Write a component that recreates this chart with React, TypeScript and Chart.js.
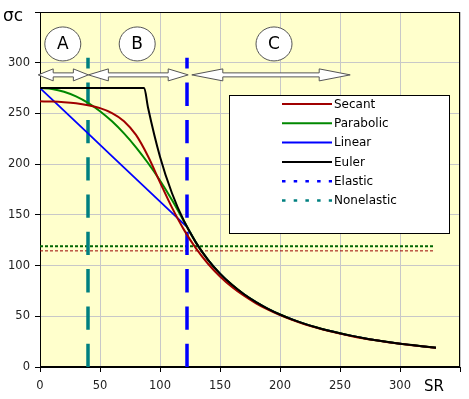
import React, { useEffect, useRef } from 'react';
import { Chart, registerables } from 'chart.js';

Chart.register(...registerables);

// ---- data ----
const srGrid = [0, 10, 20, 30, 40, 50, 60, 70, 80, 90, 100, 110, 120, 130, 140, 150, 160, 170, 180, 190, 200, 210, 220, 230, 240, 250, 260, 270, 280, 290, 300, 310, 320, 330];
const secant = [261.9, 261.7, 261.1, 260.0, 258.1, 255.2, 250.4, 242.4, 228.8, 207.8, 182.1, 157.1, 135.2, 116.9, 101.8, 89.3, 78.9, 70.2, 62.8, 56.5, 51.1, 46.4, 42.3, 38.8, 35.6, 32.9, 30.4, 28.2, 26.3, 24.5, 22.9, 21.4, 20.1, 18.9];
const parabolic = [275, 274.1, 271.4, 266.8, 260.4, 252.2, 242.2, 230.3, 216.6, 201.1, 183.8, 164.6, 143.6, 122.6, 105.7, 92.1, 81.0, 71.7, 64.0, 57.4, 51.8, 47.0, 42.8, 39.2, 36.0, 33.2, 30.7, 28.4, 26.4, 24.6, 23.0, 21.6, 20.2, 19.0];
const linearSR = [0, 40, 80, 110, 120, 122.5, 130, 140, 150, 160, 170, 180, 190, 200, 210, 220, 230, 240, 250, 260, 270, 280, 290, 300, 310, 320, 330];
const linear = [275, 230.3, 185.5, 152.0, 140.8, 138.0, 122.6, 105.7, 92.1, 81.0, 71.7, 64.0, 57.4, 51.8, 47.0, 42.8, 39.2, 36.0, 33.2, 30.7, 28.4, 26.4, 24.6, 23.0, 21.6, 20.2, 19.0];
const eulerSR = [0, 86.8, 90, 100, 110, 120, 130, 140, 150, 160, 170, 180, 190, 200, 210, 220, 230, 240, 250, 260, 270, 280, 290, 300, 310, 320, 330];
const euler = [275, 275, 255.9, 207.3, 171.3, 143.9, 122.6, 105.7, 92.1, 81.0, 71.7, 64.0, 57.4, 51.8, 47.0, 42.8, 39.2, 36.0, 33.2, 30.7, 28.4, 26.4, 24.6, 23.0, 21.6, 20.2, 19.0];

const elasticSR = 122.5;
const nonelasticSR = 40;
const zoneLineTop = 305;

const refLineSR = [0, 329];
const refGreen = 119;
const refRed = 114.5;

const zoneLetters = ['A', 'B', 'C'];
const zoneCircleSR = [19, 81, 195];
const zoneCircleSigma = 318.5;
const arrowFromSR = [-1.5, 40.3, 126.5];
const arrowToSR = [40.3, 123.5, 258.5];
const arrowHead = [15, 20, 31];
const arrowSigma = 288;

const xTicks = [0, 50, 100, 150, 200, 250, 300];
const yTicks = [0, 50, 100, 150, 200, 250, 300];

const FONT = '"DejaVu Sans", sans-serif';

const toXY = (xs: number[], ys: number[]) => xs.map((x, i) => ({ x, y: ys[i] }));

const legendNames = ['Secant', 'Parabolic', 'Linear', 'Euler', 'Elastic', 'Nonelastic'];

function drawDoubleArrow(ctx: CanvasRenderingContext2D, x1: number, x2: number, y: number, head: number) {
  const hh = 6;
  const sh = 2;
  ctx.beginPath();
  ctx.moveTo(x1, y);
  ctx.lineTo(x1 + head, y - hh);
  ctx.lineTo(x1 + head, y - sh);
  ctx.lineTo(x2 - head, y - sh);
  ctx.lineTo(x2 - head, y - hh);
  ctx.lineTo(x2, y);
  ctx.lineTo(x2 - head, y + hh);
  ctx.lineTo(x2 - head, y + sh);
  ctx.lineTo(x1 + head, y + sh);
  ctx.lineTo(x1 + head, y + hh);
  ctx.closePath();
  ctx.fillStyle = '#ffffff';
  ctx.fill();
  ctx.strokeStyle = '#555555';
  ctx.lineWidth = 1;
  ctx.stroke();
}

const bgPlugin = {
  id: 'bgPlugin',
  beforeDraw(chart: any) {
    const { ctx, chartArea: a } = chart;
    ctx.save();
    ctx.fillStyle = '#ffffff';
    ctx.fillRect(0, 0, chart.width, chart.height);
    ctx.fillStyle = '#FFFFCC';
    ctx.fillRect(a.left, a.top, a.right - a.left, a.bottom - a.top);
    ctx.restore();
  },
  beforeDatasetsDraw(chart: any) {
    const { ctx, chartArea: a } = chart;
    ctx.save();
    ctx.strokeStyle = '#000000';
    ctx.lineWidth = 1;
    ctx.strokeRect(a.left + 0.5, a.top + 0.5, a.right - a.left - 1, a.bottom - a.top - 1);
    ctx.restore();
  },
};

const overlayPlugin = {
  id: 'overlayPlugin',
  afterDatasetsDraw(chart: any) {
    const { ctx } = chart;
    const xs = chart.scales.x;
    const ys = chart.scales.y;
    ctx.save();
    // arrows
    for (let i = 0; i < arrowFromSR.length; i++) {
      drawDoubleArrow(ctx, xs.getPixelForValue(arrowFromSR[i]), xs.getPixelForValue(arrowToSR[i]), ys.getPixelForValue(arrowSigma), arrowHead[i]);
    }
    // circles
    for (let i = 0; i < zoneLetters.length; i++) {
      const cx = xs.getPixelForValue(zoneCircleSR[i]);
      const cy = ys.getPixelForValue(zoneCircleSigma);
      ctx.beginPath();
      ctx.ellipse(cx, cy, 18, 17, 0, 0, Math.PI * 2);
      ctx.fillStyle = '#ffffff';
      ctx.fill();
      ctx.strokeStyle = '#555555';
      ctx.lineWidth = 1;
      ctx.stroke();
      ctx.fillStyle = '#000000';
      ctx.font = '17px ' + FONT;
      ctx.textAlign = 'center';
      ctx.textBaseline = 'middle';
      ctx.fillText(zoneLetters[i], cx, cy + 1);
    }
    // legend
    const lx = 229, ly = 95, lw = 220, lh = 138;
    ctx.fillStyle = '#ffffff';
    ctx.fillRect(lx, ly, lw, lh);
    ctx.strokeStyle = '#000000';
    ctx.lineWidth = 1;
    ctx.strokeRect(lx + 0.5, ly + 0.5, lw, lh);
    ctx.font = '12px ' + FONT;
    ctx.textAlign = 'left';
    ctx.textBaseline = 'middle';
    legendNames.forEach((name, i) => {
      const ds = chart.data.datasets.find((d: any) => d.label === name);
      const y = 104 + i * 19.3;
      ctx.beginPath();
      ctx.strokeStyle = ds.borderColor;
      if (ds.borderDash) {
        ctx.setLineDash([3.5, 8.2]);
        ctx.lineWidth = 2.5;
      } else {
        ctx.setLineDash([]);
        ctx.lineWidth = 2;
      }
      ctx.moveTo(282, y);
      ctx.lineTo(332, y);
      ctx.stroke();
      ctx.setLineDash([]);
      ctx.fillStyle = '#000000';
      ctx.fillText(name, 334, y + 0.5);
    });
    ctx.restore();
  },
  afterDraw(chart: any) {
    const { ctx } = chart;
    ctx.save();
    ctx.fillStyle = '#000000';
    ctx.textAlign = 'left';
    ctx.textBaseline = 'alphabetic';
    ctx.font = '17px ' + FONT;
    ctx.fillText('σc', 3, 21);
    ctx.font = '15px ' + FONT;
    ctx.fillText('SR', 424, 391);
    ctx.restore();
  },
};

export default function App() {
  const ref = useRef<HTMLCanvasElement>(null);
  useEffect(() => {
    const canvas = ref.current!;
    const chart = new Chart(canvas, {
      type: 'line',
      data: {
        datasets: [
          { label: 'Secant', data: toXY(srGrid, secant), borderColor: '#A00000', borderWidth: 2, order: 1, cubicInterpolationMode: 'monotone' },
          { label: 'Parabolic', data: toXY(srGrid, parabolic), borderColor: '#008800', borderWidth: 2, order: 2, cubicInterpolationMode: 'monotone' },
          { label: 'Linear', data: toXY(linearSR, linear), borderColor: '#0000FF', borderWidth: 1.8, order: 3, cubicInterpolationMode: 'monotone' },
          { label: 'Euler', data: toXY(eulerSR, euler), borderColor: '#000000', borderWidth: 2, order: 0, cubicInterpolationMode: 'monotone' },
          { label: 'Elastic', data: [{ x: elasticSR, y: 0 }, { x: elasticSR, y: zoneLineTop }], borderColor: '#0000FF', borderWidth: 3.5, borderDash: [23.3, 14], order: 4 },
          { label: 'Nonelastic', data: [{ x: nonelasticSR, y: 0 }, { x: nonelasticSR, y: zoneLineTop }], borderColor: '#008080', borderWidth: 3.5, borderDash: [23.3, 14], order: 5 },
          { label: 'ref1', data: refLineSR.map((x) => ({ x, y: refGreen })), borderColor: '#006600', borderWidth: 2, borderDash: [3, 2], order: 6 },
          { label: 'ref2', data: refLineSR.map((x) => ({ x, y: refRed })), borderColor: '#990000', borderWidth: 1, borderDash: [3, 2], order: 7 },
        ] as any,
      },
      options: {
        animation: false,
        responsive: false,
        devicePixelRatio: 1,
        layout: { padding: { top: 12, right: 9, left: 0, bottom: 0 } },
        elements: { point: { radius: 0 }, line: { tension: 0, fill: false } },
        plugins: { legend: { display: false }, tooltip: { enabled: false } },
        scales: {
          x: {
            type: 'linear',
            min: 0,
            max: 350,
            afterFit: (s: any) => { s.height = 32; },
            afterBuildTicks: (s: any) => { s.ticks = [...xTicks, 350].map((v) => ({ value: v })); },
            ticks: {
              callback: (v: any) => (xTicks.includes(v) ? String(v) : ''),
              font: { family: FONT, size: 11.5 },
              color: '#222222',
              padding: 7,
              maxRotation: 0,
              autoSkip: false,
            },
            grid: { color: '#C8C8C8', lineWidth: 1, tickLength: 5, tickColor: '#000000' },
            border: { display: true, color: '#000000', width: 1 },
          },
          y: {
            type: 'linear',
            min: 0,
            max: 350,
            afterFit: (s: any) => { s.width = 40; },
            afterBuildTicks: (s: any) => { s.ticks = [...yTicks, 350].map((v) => ({ value: v })); },
            ticks: {
              callback: (v: any) => (yTicks.includes(v) ? String(v) : ''),
              font: { family: FONT, size: 11.5 },
              color: '#222222',
              padding: 5,
              autoSkip: false,
            },
            grid: { color: '#C8C8C8', lineWidth: 1, tickLength: 5, tickColor: '#000000' },
            border: { display: true, color: '#000000', width: 1 },
          },
        },
      } as any,
      plugins: [bgPlugin, overlayPlugin],
    });
    return () => chart.destroy();
  }, []);
  return (
    <div style={{ position: 'fixed', left: 0, top: 0, width: 469, height: 399, background: '#ffffff' }}>
      <canvas ref={ref} width={469} height={399} style={{ display: 'block' }} />
    </div>
  );
}
